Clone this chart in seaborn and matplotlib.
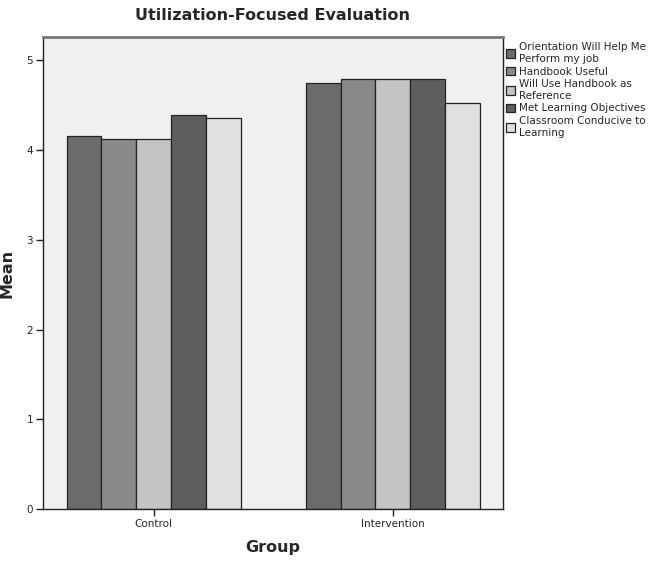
import matplotlib
matplotlib.use("Agg")
import matplotlib.pyplot as plt
import seaborn as sns
import pandas as pd

groups = ["Control", "Intervention"]
items = ["Orientation Will Help Me\nPerform my job",
         "Handbook Useful",
         "Will Use Handbook as\nReference",
         "Met Learning Objectives",
         "Classroom Conducive to\nLearning"]
control_means = [4.16, 4.12, 4.12, 4.39, 4.36]
intervention_means = [4.75, 4.79, 4.79, 4.79, 4.52]
bar_colors = ["#6b6b6b", "#8a8a8a", "#c4c4c4", "#5e5e5e", "#e0e0e0"]

df = pd.DataFrame({
    "Group": [g for g in groups for _ in items],
    "Item": items * len(groups),
    "Mean": control_means + intervention_means,
})

sns.set_style("white")
plt.rcParams["font.family"] = ["DejaVu Sans"]

fig = plt.figure(figsize=(6.6, 5.66), dpi=100)
ax = fig.add_axes([0.065, 0.1007, 0.697, 0.834])
ax.set_facecolor("#f0f0f0")

sns.barplot(data=df, x="Group", y="Mean", hue="Item", hue_order=items,
            palette=bar_colors, width=0.73, edgecolor="#222222",
            linewidth=0.9, ax=ax)

ax.set_xlim(-0.464, 1.46)
ax.set_ylim(0, 5.26)
ax.set_yticks([0, 1, 2, 3, 4, 5])
ax.tick_params(axis="both", direction="out", length=5, width=1,
               color="#222222", labelsize=7.5, pad=2, bottom=True, left=True)

for side in ["left", "bottom", "right"]:
    ax.spines[side].set_color("#222222")
    ax.spines[side].set_linewidth(1)
ax.spines["top"].set_color("#777777")
ax.spines["top"].set_linewidth(2)

ax.set_xlabel("Group", fontsize=11.5, fontweight="bold", labelpad=8)
ax.set_ylabel("Mean", fontsize=11.5, fontweight="bold")
ax.yaxis.set_label_coords(-0.062, 0.5)
ax.set_title("Utilization-Focused Evaluation", fontsize=11.5,
             fontweight="bold", pad=12)

leg = ax.legend(loc="upper left", bbox_to_anchor=(1.0, 0.995), frameon=False,
                fontsize=7.5, handlelength=0.9, handleheight=0.9,
                handletextpad=0.3, labelspacing=0.25, borderaxespad=0.2,
                borderpad=0.1)

fig.savefig("out.png", dpi=100)
